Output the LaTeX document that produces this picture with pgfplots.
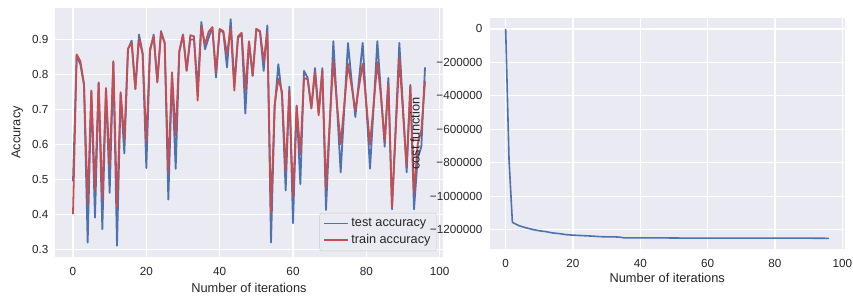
\documentclass[border=0pt]{standalone}
\usepackage{pgfplots}
\usepackage{pgfplotstable}
\pgfplotsset{compat=1.18}
\usepackage{fontspec}
\setmainfont{Liberation Sans}
\definecolor{bgc}{HTML}{EAEAF2}
\definecolor{txt}{HTML}{262626}
\definecolor{sbblue}{HTML}{4C72B0}
\definecolor{sbred}{HTML}{C44E52}

\pgfplotstableread{
i test train
0 0.494 0.400
1 0.852 0.857
2 0.829 0.838
3 0.770 0.773
4 0.319 0.428
5 0.750 0.754
6 0.390 0.470
7 0.775 0.777
8 0.357 0.442
9 0.758 0.761
10 0.461 0.536
11 0.834 0.838
12 0.310 0.420
13 0.744 0.749
14 0.574 0.612
15 0.872 0.874
16 0.897 0.890
17 0.758 0.758
18 0.914 0.903
19 0.860 0.857
20 0.532 0.607
21 0.866 0.872
22 0.914 0.909
23 0.780 0.777
24 0.924 0.919
25 0.890 0.890
26 0.442 0.518
27 0.798 0.806
28 0.530 0.626
29 0.864 0.867
30 0.914 0.914
31 0.812 0.810
32 0.900 0.912
33 0.900 0.909
34 0.760 0.725
35 0.950 0.938
36 0.872 0.886
37 0.905 0.922
38 0.935 0.935
39 0.791 0.806
40 0.928 0.930
41 0.920 0.924
42 0.820 0.857
43 0.958 0.933
44 0.772 0.754
45 0.905 0.909
46 0.914 0.919
47 0.688 0.754
48 0.893 0.895
49 0.796 0.796
50 0.930 0.930
51 0.922 0.924
52 0.810 0.838
53 0.940 0.917
54 0.319 0.404
55 0.706 0.714
56 0.829 0.787
57 0.738 0.750
58 0.468 0.524
59 0.765 0.754
60 0.374 0.450
61 0.708 0.711
62 0.486 0.572
63 0.810 0.790
64 0.790 0.786
65 0.705 0.702
66 0.818 0.806
67 0.690 0.683
68 0.818 0.810
69 0.412 0.475
70 0.650 0.660
71 0.895 0.840
72 0.710 0.715
73 0.520 0.600
74 0.705 0.715
75 0.890 0.830
76 0.780 0.765
77 0.678 0.697
78 0.785 0.765
79 0.890 0.830
80 0.710 0.715
81 0.530 0.600
82 0.710 0.715
83 0.895 0.835
84 0.745 0.735
85 0.593 0.610
86 0.790 0.775
87 0.414 0.420
88 0.650 0.635
89 0.890 0.848
90 0.705 0.690
91 0.520 0.536
92 0.770 0.765
93 0.414 0.460
94 0.560 0.600
95 0.593 0.640
96 0.820 0.780
}\accdata

\pgfplotstableread{
i cost
0 0
1 -780000
2 -1155000
3 -1165000
4 -1175000
6 -1187000
8 -1197000
10 -1205000
12 -1210000
14 -1218000
16 -1222000
18 -1228000
20 -1231000
22 -1233000
24 -1235000
26 -1237000
28 -1240000
30 -1241000
32 -1241000
34 -1243000
35 -1247000
40 -1247000
45 -1247000
50 -1248000
55 -1249000
60 -1249000
70 -1249000
80 -1249000
90 -1249000
96 -1250000
}\costdata

\pgfplotsset{
  sbstyle/.style={
    scale only axis,
    axis background/.style={fill=bgc},
    axis line style={draw=none},
    major tick length=0pt,
    grid=major,
    grid style={white, line width=1.07pt},
    tick label style={font=\fontsize{11.7}{14}\selectfont, text=txt},
    xticklabel style={anchor=center, yshift=-14.5pt},
    yticklabel style={anchor=east, xshift=-3.6pt},
    label style={font=\fontsize{12.8}{15}\selectfont, text=txt},
    scaled ticks=false,
    xmin=-4.8, xmax=100.8,
    xtick={0,20,40,60,80,100},
    xticklabels={0,20,40,60,80,100},
    xlabel={Number of iterations},
  }
}

\begin{document}
\begin{tikzpicture}
\path[use as bounding box] (0pt,0pt) rectangle (853pt,300pt);
\begin{axis}[sbstyle,
  at={(55.4pt,43pt)}, anchor=south west,
  width=387.2pt, height=249pt,
  ymin=0.2776, ymax=0.990,
  ytick={0.3,0.4,0.5,0.6,0.7,0.8,0.9},
  yticklabels={0.3,0.4,0.5,0.6,0.7,0.8,0.9},
  ylabel={Accuracy},
  xlabel style={at={(axis description cs:0.5,-0.1245)}, anchor=center},
  ylabel style={at={(axis description cs:-0.0981,0.5)}, anchor=center},
  legend cell align=left,
  legend image code/.code={\draw[#1, line width=1.8pt] (0pt,0pt) -- (24pt,0pt);},
  legend style={at={(1,0)}, anchor=south east, xshift=-5.9pt, yshift=5.9pt,
    fill=bgc, fill opacity=0.8, draw opacity=1, text opacity=1,
    draw=black!20, rounded corners=2.5pt,
    font=\fontsize{12.7}{15}\selectfont, text=txt,
    inner xsep=3pt, inner ysep=2.3pt, row sep=0pt,
    nodes={inner ysep=3.2pt, inner xsep=3pt}},
]
\addplot[sbblue, line width=1.8pt, line join=round] table[x=i, y=test] {\accdata};
\addlegendentry{test accuracy}
\addplot[sbred, line width=1.8pt, line join=round] table[x=i, y=train] {\accdata};
\addlegendentry{train accuracy}
\end{axis}

\begin{axis}[sbstyle,
  at={(489.5pt,51.2pt)}, anchor=south west,
  width=355.5pt, height=230.3pt,
  ymin=-1312500, ymax=62500,
  ytick={-1200000,-1000000,-800000,-600000,-400000,-200000,0},
  yticklabels={−1200000,−1000000,−800000,−600000,−400000,−200000,0},
  ylabel={cost function},
  xlabel style={at={(axis description cs:0.5,-0.126)}, anchor=center},
  ylabel style={at={(axis description cs:-0.2096,0.5)}, anchor=center},
]
\addplot[sbblue, line width=1.6pt, line join=round] table[x=i, y=cost] {\costdata};
\end{axis}
\end{tikzpicture}
\end{document}
